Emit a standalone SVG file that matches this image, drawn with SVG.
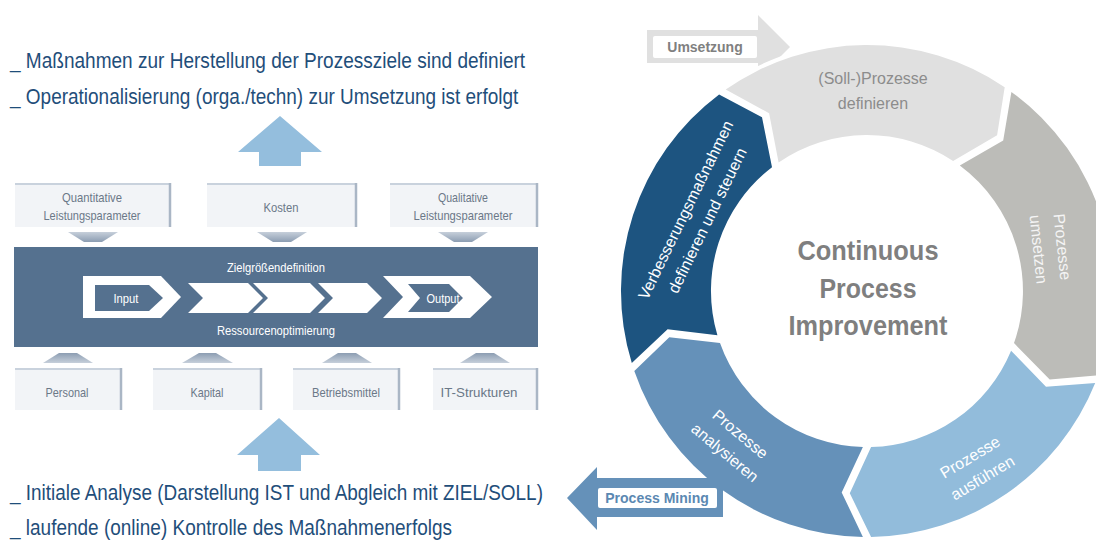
<svg xmlns="http://www.w3.org/2000/svg" width="1096" height="543" viewBox="0 0 1096 543">
<defs>
<style>
.hd{font-family:"Liberation Sans Narrow","Liberation Sans",Arial,sans-serif;font-size:22px;fill:#1f4e7a}
.sm{font-family:"Liberation Sans Narrow","Liberation Sans",Arial,sans-serif;font-size:13px;fill:#6b7888;text-anchor:middle}
.sw{font-family:"Liberation Sans Narrow","Liberation Sans",Arial,sans-serif;font-size:13px;fill:#ffffff;text-anchor:middle}
.box{fill:#f2f4f7}
.bt{stroke:#c9d2dd;stroke-width:2}
.br{stroke:#aab6c5;stroke-width:2.5}
.rt{font-family:"Liberation Sans",Arial,sans-serif;font-size:16px;text-anchor:middle}
.ct{font-family:"Liberation Sans",Arial,sans-serif;font-size:27px;font-weight:bold;fill:#7f7f7f;text-anchor:middle}
.lb{font-family:"Liberation Sans",Arial,sans-serif;font-size:14px;font-weight:bold;text-anchor:middle}
.arr{fill:#94bedd}
</style>
<linearGradient id="gd" x1="0" y1="0" x2="0" y2="1"><stop offset="0" stop-color="#c6cfda"/><stop offset="1" stop-color="#8c9db2"/></linearGradient>
<linearGradient id="gu" x1="0" y1="1" x2="0" y2="0"><stop offset="0" stop-color="#c6cfda"/><stop offset="1" stop-color="#8c9db2"/></linearGradient>
</defs>
<rect width="1096" height="543" fill="#ffffff"/>

<g id="text-top">
<text class="hd" transform="translate(10,68) scale(0.85,1)" x="0" y="0" textLength="606" lengthAdjust="spacingAndGlyphs">_ Maßnahmen zur Herstellung der Prozessziele sind definiert</text>
<text class="hd" transform="translate(10,104) scale(0.85,1)" x="0" y="0" textLength="598" lengthAdjust="spacingAndGlyphs">_ Operationalisierung (orga./techn) zur Umsetzung ist erfolgt</text>
</g>
<g id="text-bottom">
<text class="hd" transform="translate(10,500) scale(0.85,1)" x="0" y="0" textLength="627" lengthAdjust="spacingAndGlyphs">_ Initiale Analyse (Darstellung IST und Abgleich mit ZIEL/SOLL)</text>
<text class="hd" transform="translate(10,535) scale(0.85,1)" x="0" y="0" textLength="520" lengthAdjust="spacingAndGlyphs">_ laufende (online) Kontrolle des Maßnahmenerfolgs</text>
</g>

<g id="connectors">
<polygon class="arr" points="280,116 322,152 301,152 301,166 259,166 259,152 238,152"/>
<polygon class="arr" points="279,418 320,455 301,455 301,471 258,471 258,455 237,455"/>
<polygon fill="url(#gd)" points="68,232 118,232 102,242 84,242"/>
<polygon fill="url(#gd)" points="257,232 307,232 291,242 273,242"/>
<polygon fill="url(#gd)" points="438,232 488,232 472,242 454,242"/>
<polygon fill="url(#gu)" points="43,363 93,363 77,353 59,353"/>
<polygon fill="url(#gu)" points="182,363 233,363 216,353 199,353"/>
<polygon fill="url(#gu)" points="322,363 372,363 356,353 338,353"/>
<polygon fill="url(#gu)" points="460,363 510,363 494,353 476,353"/>
</g>

<g id="box-quant">
<rect class="box" x="15" y="183" width="156" height="44"/>
<line class="bt" x1="15" y1="184" x2="171" y2="184"/>
<line class="br" x1="170" y1="183" x2="170" y2="227"/>
<text class="sm" x="92" y="202" textLength="60" lengthAdjust="spacingAndGlyphs">Quantitative</text>
<text class="sm" x="92" y="220" textLength="97" lengthAdjust="spacingAndGlyphs">Leistungsparameter</text>
</g>
<g id="box-kosten">
<rect class="box" x="207" y="183" width="150" height="44"/>
<line class="bt" x1="207" y1="184" x2="357" y2="184"/>
<line class="br" x1="356" y1="183" x2="356" y2="227"/>
<text class="sm" x="281" y="212" textLength="35" lengthAdjust="spacingAndGlyphs">Kosten</text>
</g>
<g id="box-qual">
<rect class="box" x="390" y="183" width="148" height="44"/>
<line class="bt" x1="390" y1="184" x2="538" y2="184"/>
<line class="br" x1="537" y1="183" x2="537" y2="227"/>
<text class="sm" x="463" y="202" textLength="50" lengthAdjust="spacingAndGlyphs">Qualitative</text>
<text class="sm" x="463" y="220" textLength="99" lengthAdjust="spacingAndGlyphs">Leistungsparameter</text>
</g>

<g id="band">
<rect x="14" y="247" width="524" height="100" fill="#55718f"/>
<text class="sw" x="276" y="272" textLength="98" lengthAdjust="spacingAndGlyphs">Zielgrößendefinition</text>
<text class="sw" x="276" y="335" textLength="118" lengthAdjust="spacingAndGlyphs">Ressourcenoptimierung</text>
</g>
<g id="chev-input">
<polygon fill="#ffffff" points="83,276 161,276 181,297 161,318 83,318"/>
<polygon fill="#55718f" points="95,285 149,285 163,298 149,311 95,311"/>
<text class="sw" x="126" y="303" textLength="25" lengthAdjust="spacingAndGlyphs">Input</text>
</g>
<g id="chev-2"><polygon fill="#ffffff" points="188,283 248,283 263,298 248,313 188,313 203,298"/></g>
<g id="chev-3"><polygon fill="#ffffff" points="253,283 310,283 325,298 310,313 253,313 268,298"/></g>
<g id="chev-4"><polygon fill="#ffffff" points="318,283 367,283 382,298 367,313 318,313 333,298"/></g>
<g id="chev-output">
<polygon fill="#ffffff" points="383,276 470,276 492,297 470,318 383,318 403,297"/>
<polygon fill="#55718f" points="408,284 449,284 463,298 449,312 408,312 420,298"/>
<text class="sw" x="443" y="303" textLength="33" lengthAdjust="spacingAndGlyphs">Output</text>
</g>

<g id="box-personal">
<rect class="box" x="15" y="368" width="107" height="42"/>
<line class="bt" x1="15" y1="369" x2="122" y2="369"/>
<line class="br" x1="121" y1="368" x2="121" y2="410"/>
<text class="sm" x="67" y="397" textLength="43" lengthAdjust="spacingAndGlyphs">Personal</text>
</g>
<g id="box-kapital">
<rect class="box" x="153" y="368" width="109" height="42"/>
<line class="bt" x1="153" y1="369" x2="262" y2="369"/>
<line class="br" x1="261" y1="368" x2="261" y2="410"/>
<text class="sm" x="207" y="397" textLength="33" lengthAdjust="spacingAndGlyphs">Kapital</text>
</g>
<g id="box-betrieb">
<rect class="box" x="293" y="368" width="107" height="42"/>
<line class="bt" x1="293" y1="369" x2="400" y2="369"/>
<line class="br" x1="399" y1="368" x2="399" y2="410"/>
<text class="sm" x="346" y="397" textLength="68" lengthAdjust="spacingAndGlyphs">Betriebsmittel</text>
</g>
<g id="box-it">
<rect class="box" x="433" y="368" width="105" height="42"/>
<line class="bt" x1="433" y1="369" x2="538" y2="369"/>
<line class="br" x1="537" y1="368" x2="537" y2="410"/>
<text class="sm" x="479" y="397" textLength="77" lengthAdjust="spacingAndGlyphs">IT-Strukturen</text>
</g>

<g id="arrow-umsetzung">
<polygon fill="#e0e0e0" points="647,30 758,30 758,15 790,47 758,79 758,63 647,63"/>
<rect x="653" y="36" width="104" height="22" rx="2" fill="#ffffff"/>
<text class="lb" x="705" y="52" fill="#808080">Umsetzung</text>
</g>
<circle cx="867" cy="291" r="250" fill="#ffffff"/>

<g id="seg-definieren">
<path fill="#e0e0e0" d="M725.7,89.6 A246,246 0 0 1 1004.7,87.2 L997.1,135.2 L953.1,160.9 A156,156 0 0 0 778.6,162.4 L769.1,113.2 Z"/>
<text class="rt" fill="#8c8c8c" x="873" y="84">(Soll-)Prozesse</text>
<text class="rt" fill="#8c8c8c" x="873" y="109">definieren</text>
</g>
<g id="seg-umsetzen">
<path fill="#bcbcb8" d="M1011.4,91.9 A246,246 0 0 1 1098.1,375.3 L1049.7,379.5 L1014.0,343.1 A156,156 0 0 0 959.8,165.6 L1003.2,140.5 Z"/>
<g transform="translate(1051,248) rotate(84)">
<text class="rt" fill="#f4f4f4" x="0" y="-6">Prozesse</text>
<text class="rt" fill="#f4f4f4" x="0" y="18">umsetzen</text>
</g>
</g>
<g id="seg-ausfuehren">
<path fill="#92bcdb" d="M1095.2,383.0 A246,246 0 0 1 871.1,537.0 L849.8,493.3 L871.1,447.0 A156,156 0 0 0 1011.1,350.7 L1046.0,386.8 Z"/>
<g transform="translate(976,467) rotate(-31)">
<text class="rt" fill="#ffffff" x="0" y="-6">Prozesse</text>
<text class="rt" fill="#ffffff" x="0" y="18">ausführen</text>
</g>
</g>
<g id="seg-analysieren">
<path fill="#6591b9" d="M862.9,537.0 A246,246 0 0 1 634.3,370.9 L669.3,337.2 L720.0,343.1 A156,156 0 0 0 862.9,447.0 L841.7,492.4 Z"/>
<g transform="translate(733,443) rotate(40)">
<text class="rt" fill="#ffffff" x="0" y="-6">Prozesse</text>
<text class="rt" fill="#ffffff" x="0" y="18">analysieren</text>
</g>
</g>
<g id="seg-verbesserung">
<path fill="#1d5480" d="M631.8,363.1 A246,246 0 0 1 719.1,94.4 L762.0,117.3 L772.0,167.2 A156,156 0 0 0 717.4,335.3 L667.6,329.2 Z"/>
<g transform="translate(696,215) rotate(-64)">
<text class="rt" fill="#ffffff" x="0" y="-6">Verbesserungsmaßnahmen</text>
<text class="rt" fill="#ffffff" x="0" y="18">definieren und steuern</text>
</g>
</g>

<g id="center-title">
<text class="ct" x="868" y="260" textLength="141" lengthAdjust="spacingAndGlyphs">Continuous</text>
<text class="ct" x="868" y="298" textLength="97" lengthAdjust="spacingAndGlyphs">Process</text>
<text class="ct" x="868" y="335" textLength="159" lengthAdjust="spacingAndGlyphs">Improvement</text>
</g>

<g id="arrow-processmining">
<polygon fill="#6591b9" points="567,498 597,467 597,478 723,478 723,517 597,517 597,530"/>
<rect x="598" y="488" width="119" height="20" rx="2" fill="#ffffff"/>
<text class="lb" x="657" y="503" fill="#5b88b2">Process Mining</text>
</g>
</svg>
